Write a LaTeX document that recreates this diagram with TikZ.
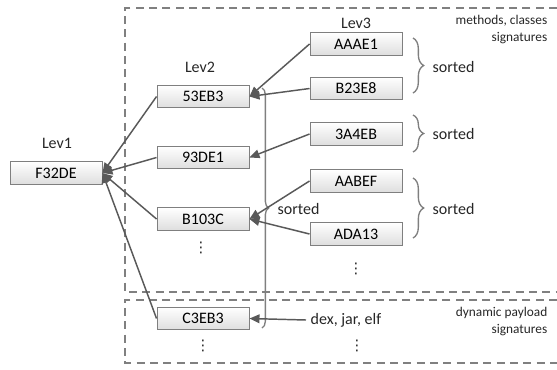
\documentclass[tikz,border=0pt]{standalone}
\usepackage{fontspec}
\setmainfont{Carlito}
\newfontfamily\symfont{DejaVu Sans}
\usetikzlibrary{arrows.meta,decorations.pathreplacing}
\definecolor{linegray}{HTML}{595959}
\definecolor{dashgray}{HTML}{808080}
\definecolor{boxgray}{HTML}{7F7F7F}
\tikzset{
  sigbox/.style={draw=boxgray, line width=0.7pt, top color=white, bottom color=black!13,
    minimum width=69pt, minimum height=17pt, inner sep=0pt, font=\fontsize{12}{14}\selectfont},
  lev/.style={font=\fontsize{12}{14}\selectfont, text=black!85},
  vdot/.style={font=\symfont\fontsize{11}{13}\selectfont, text=black!85, inner sep=1pt},
  note/.style={font=\fontsize{10}{12.5}\selectfont, align=right, text=black!85},
  arr/.style={draw=linegray, line width=1.1pt, -{Triangle[length=7.5pt,width=6.5pt]}},
  region/.style={draw=dashgray, line width=0.9pt, dash pattern=on 6pt off 4pt},
  bigbrace/.style={draw=boxgray, line width=1pt, decorate, decoration={brace, amplitude=#1}},
}
\begin{document}
\begin{tikzpicture}[x=0.75pt,y=-0.75pt]
    \useasboundingbox (0,0) rectangle (557,369);

    % signature regions
    \draw[region] (557,8) -- (125,8) -- (125,292) -- (557,292);
    \draw[region] (557,300) -- (125,300) -- (125,363) -- (557,363);
    \node[note, anchor=north east] (methnote) at (552,11) {methods, classes\\signatures};
    \node[note, anchor=north east] (dynnote) at (552,303) {dynamic payload\\signatures};

    % Lev1
    \node[lev] (lev1) at (57,143) {Lev1};
    \node[sigbox] (f32de) at (56,173) {F32DE};

    % Lev2
    \node[lev] (lev2) at (200,67) {Lev2};
    \node[sigbox] (n53eb3) at (203,96.5) {53EB3};
    \node[sigbox] (n93de1) at (203,157.5) {93DE1};
    \node[sigbox] (b103c) at (203,219) {B103C};
    \node[vdot] (dotsb) at (201,248) {⋮};
    \node[sigbox] (c3eb3) at (203,318.5) {C3EB3};
    \node[vdot] (dotsc) at (203,346) {⋮};

    % Lev3
    \node[lev] (lev3) at (356,23) {Lev3};
    \node[sigbox] (aaae1) at (356,44) {AAAE1};
    \node[sigbox] (b23e8) at (356,88.5) {B23E8};
    \node[sigbox] (n3a4eb) at (356,134) {3A4EB};
    \node[sigbox] (aabef) at (356,181) {AABEF};
    \node[sigbox] (ada13) at (356,234) {ADA13};
    \node[vdot] (dotsd) at (356,269) {⋮};
    \node[lev, anchor=west] (dex) at (306,320) {dex, jar, elf};
    \node[vdot] (dotse) at (357,346) {⋮};

    % sorted braces
    \draw[bigbrace=8pt] (413,38) -- (413,93);
    \draw[bigbrace=8pt] (413,115) -- (413,152);
    \draw[bigbrace=8pt] (413,178) -- (413,238);
    \draw[bigbrace=5pt] (262,88) -- (262,328);
    \node[lev, anchor=west] (sorta) at (428,67) {sorted};
    \node[lev, anchor=west] (sortb) at (428,134) {sorted};
    \node[lev, anchor=west] (sortc) at (428,209) {sorted};
    \node[lev, anchor=west] (sortd) at (273,209) {sorted};

    \draw[arr] (aaae1.west) -- (n53eb3.east);
    \draw[arr] (b23e8.west) -- (n53eb3.east);
    \draw[arr] (n3a4eb.west) -- (n93de1.east);
    \draw[arr] (aabef.west) -- (b103c.east);
    \draw[arr] (ada13.west) -- (b103c.east);
    \draw[arr] (dex.west) -- (c3eb3.east);

    \draw[arr] (n53eb3.west) -- (f32de.east);
    \draw[arr] (n93de1.west) -- (f32de.east);
    \draw[arr] (b103c.west) -- (f32de.east);
    \draw[arr] (c3eb3.west) -- (f32de.east);

\end{tikzpicture}
\end{document}
